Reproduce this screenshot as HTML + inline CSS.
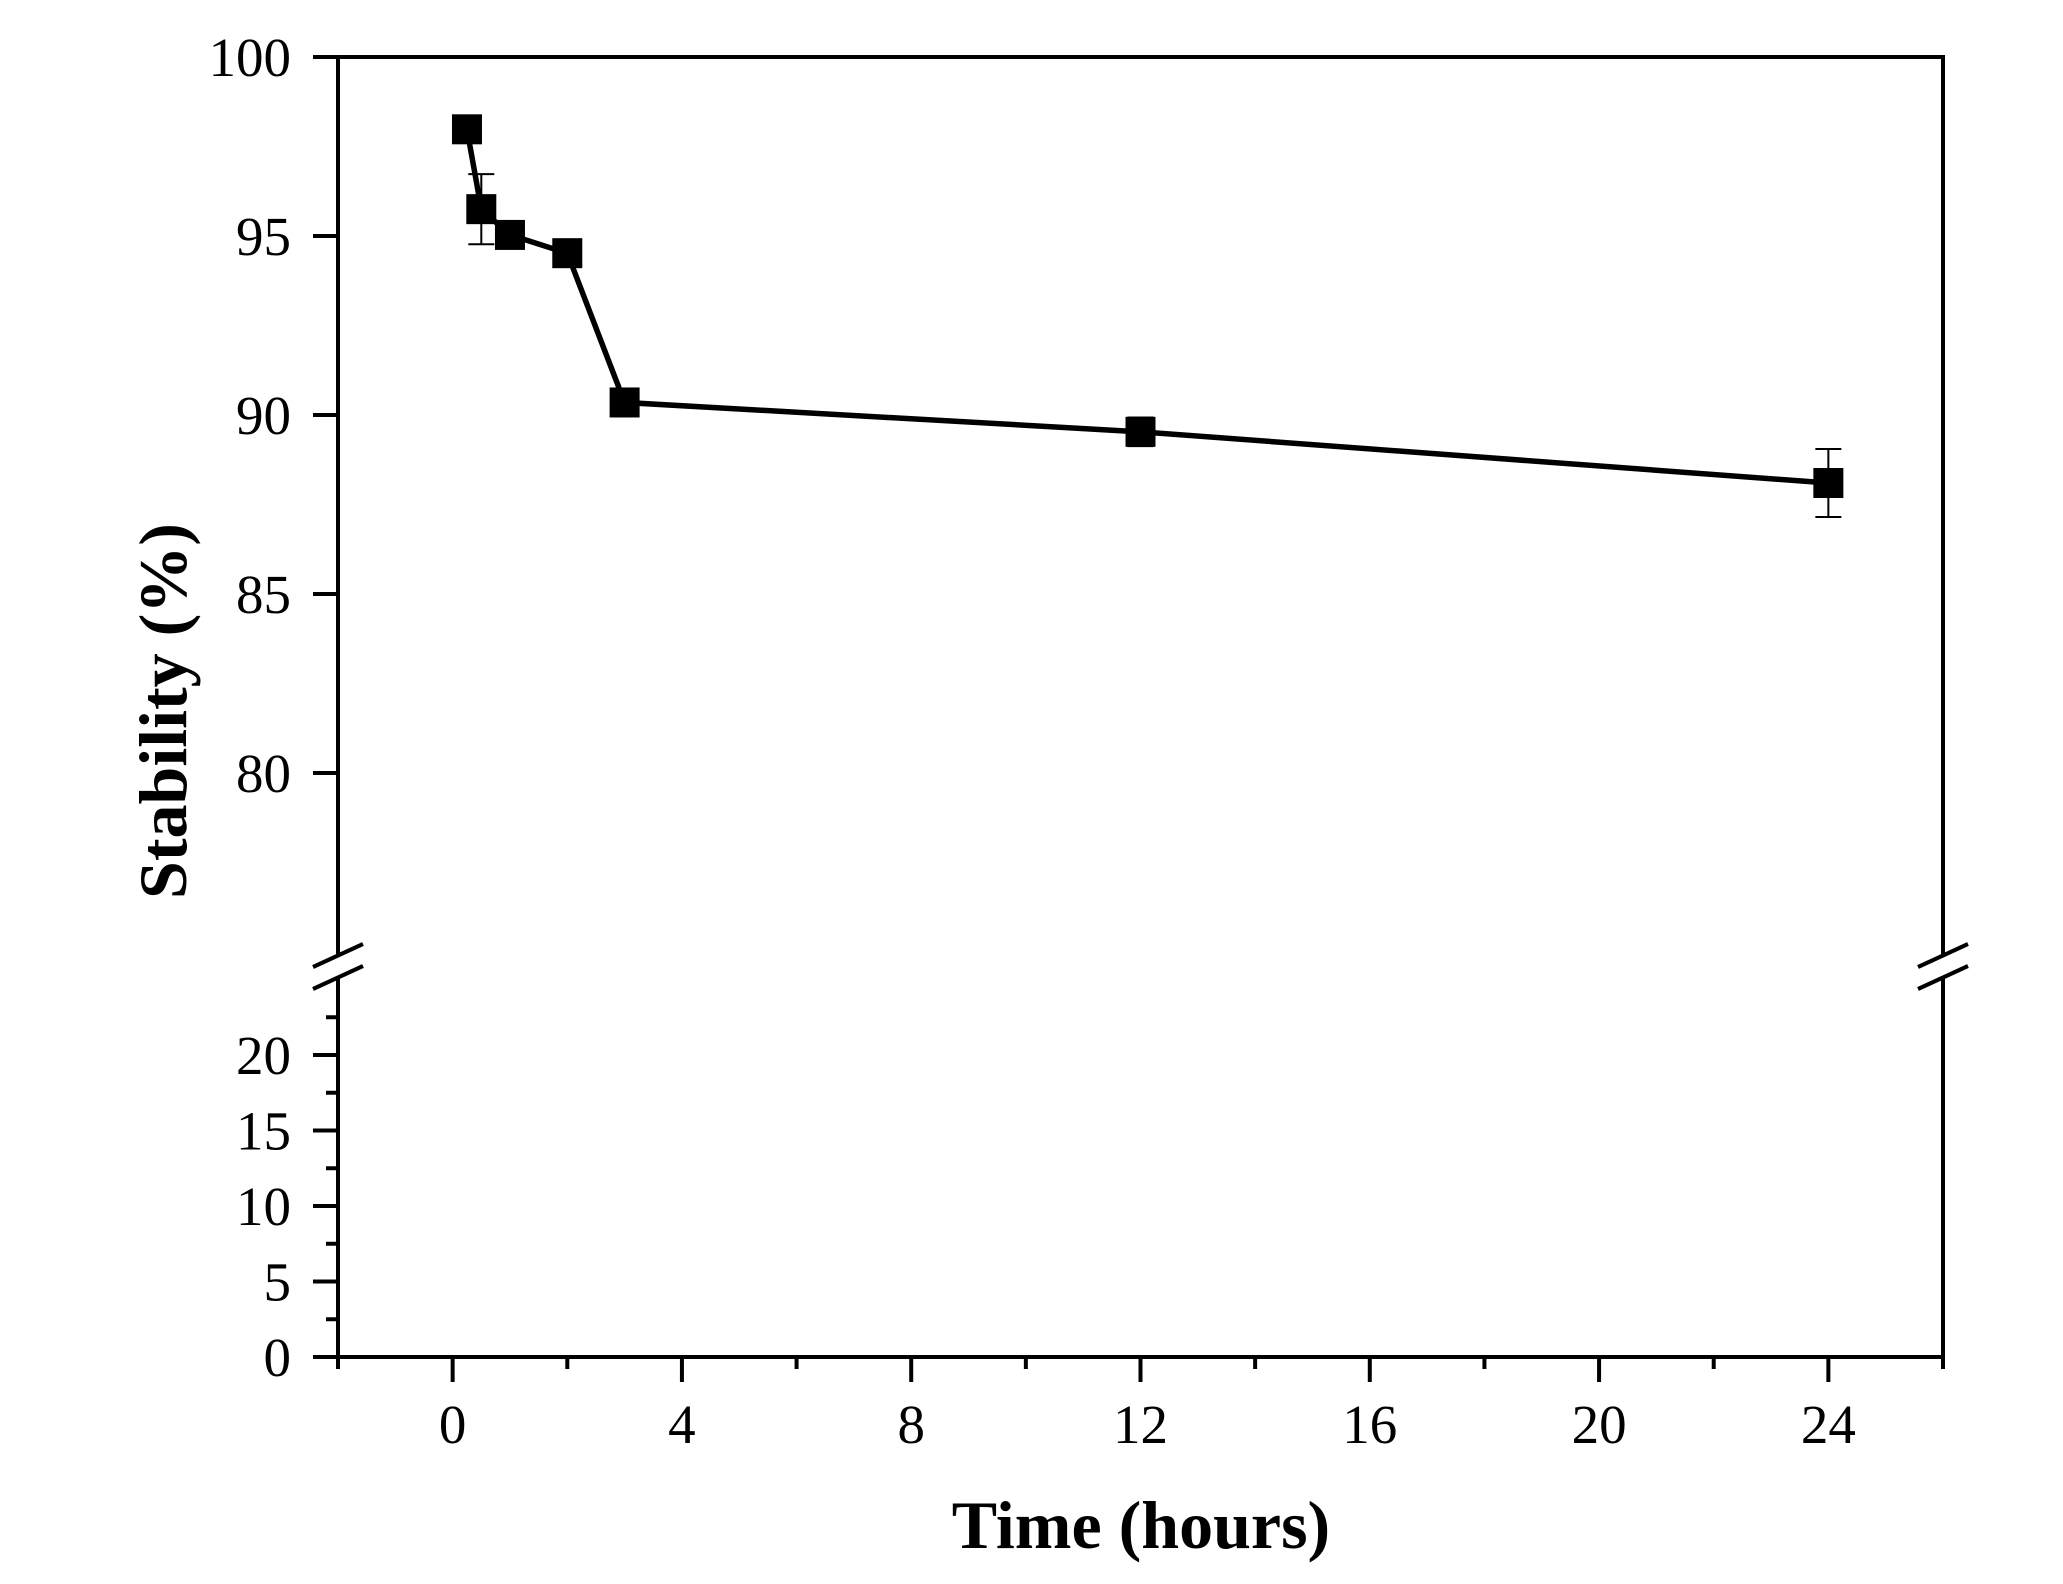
<!DOCTYPE html>
<html><head><meta charset="utf-8"><style>
html,body{margin:0;padding:0;background:#fff;}
svg{display:block;font-family:"Liberation Serif",serif;}
</style></head><body>
<svg id="chart" width="2063" height="1584" viewBox="0 0 2063 1584" xmlns="http://www.w3.org/2000/svg">
<g id="axes"></g>
<g id="series"></g>
<text x="1141" y="1548" font-size="68" font-weight="bold" text-anchor="middle">Time (hours)</text>
<text transform="translate(186,711) rotate(-90)" font-size="68" font-weight="bold" text-anchor="middle">Stability (%)</text>
</svg>
<script>
const times = [0.25, 0.5, 1, 2, 3, 12, 24];
const stability = [97.98, 95.75, 95.03, 94.52, 90.35, 89.53, 88.1];
const errors = [0.1, 0.98, 0.1, 0.1, 0.1, 0.4, 0.95];
const xTicks = [0, 4, 8, 12, 16, 20, 24];
const yUpperTicks = [80, 85, 90, 95, 100];
const yLowerTicks = [0, 5, 10, 15, 20];

const NS = "http://www.w3.org/2000/svg";
const X0 = 338, X1 = 1943, XMIN = -2, XMAX = 26;
const xs = v => X0 + (v - XMIN) / (XMAX - XMIN) * (X1 - X0);
const yU = v => 57 + (100 - v) * 35.8;
const yL = v => 1357 - v * 15.1;
const ys = v => v >= 50 ? yU(v) : yL(v);

function mk(tag, attrs, parent){
  const e = document.createElementNS(NS, tag);
  for (const k in attrs) e.setAttribute(k, attrs[k]);
  parent.appendChild(e);
  return e;
}
const ax = document.getElementById('axes');
const sr = document.getElementById('series');

let e;
e = mk('line', {x1:X0-2, y1:57, x2:X1+2, y2:57, stroke:'#000','stroke-width':4}, ax);


e = mk('line', {x1:X0-2, y1:1357, x2:X1+2, y2:1357, stroke:'#000','stroke-width':4}, ax);


[X0, X1].forEach((x, i) => {
  e = mk('line', {x1:x, y1:55, x2:x, y2:955, stroke:'#000','stroke-width':4}, ax);
  
  
  e = mk('line', {x1:x, y1:978, x2:x, y2:1359, stroke:'#000','stroke-width':4}, ax);
  
  
  [0, 22].forEach(d => {
    e = mk('line', {x1:x-25, y1:967+d, x2:x+25, y2:944+d, stroke:'#000','stroke-width':4}, ax);
    
    
  });
});
for (let t = XMIN; t <= XMAX; t += 2) {
  const major = (t % 4 === 0);
  e = mk('line', {x1:xs(t), y1:1357, x2:xs(t), y2:1357 + (major ? 25 : 12), stroke:'#000','stroke-width':4}, ax);
  
  
}
xTicks.forEach(t => {
  e = mk('text', {x:xs(t), y:1443, 'font-size':55, 'text-anchor':'middle'}, ax);
  e.textContent = t;
  
  
});
yUpperTicks.forEach(v => {
  e = mk('line', {x1:X0-25, y1:yU(v), x2:X0, y2:yU(v), stroke:'#000','stroke-width':4}, ax);
  
  
  e = mk('text', {x:291, y:yU(v)+19, 'font-size':55, 'text-anchor':'end'}, ax);
  e.textContent = v;
  
  
});
for (let v = 0; v <= 22.5; v += 2.5) {
  const major = (v % 5 === 0);
  e = mk('line', {x1:X0 - (major ? 25 : 12), y1:yL(v), x2:X0, y2:yL(v), stroke:'#000','stroke-width':4}, ax);
  
  
}
yLowerTicks.forEach(v => {
  e = mk('text', {x:291, y:yL(v)+19, 'font-size':55, 'text-anchor':'end'}, ax);
  e.textContent = v;
  
  
});
const pts = times.map((t, i) => xs(t) + ',' + ys(stability[i])).join(' ');
e = mk('polyline', {points:pts, fill:'none', stroke:'#000', 'stroke-width':5.5, 'stroke-linejoin':'round'}, sr);


times.forEach((t, i) => {
  const x = xs(t), yt = ys(stability[i] + errors[i]), yb = ys(stability[i] - errors[i]);
  const g = mk('g', {stroke:'#000','stroke-width':2}, sr);
  
  
  mk('line', {x1:x, y1:yt, x2:x, y2:yb}, g);
  mk('line', {x1:x-13, y1:yt, x2:x+13, y2:yt}, g);
  mk('line', {x1:x-13, y1:yb, x2:x+13, y2:yb}, g);
});
times.forEach((t, i) => {
  e = mk('rect', {x:xs(t)-15, y:ys(stability[i])-15, width:30, height:30, fill:'#000'}, sr);
  
  
});
</script>
</body></html>
